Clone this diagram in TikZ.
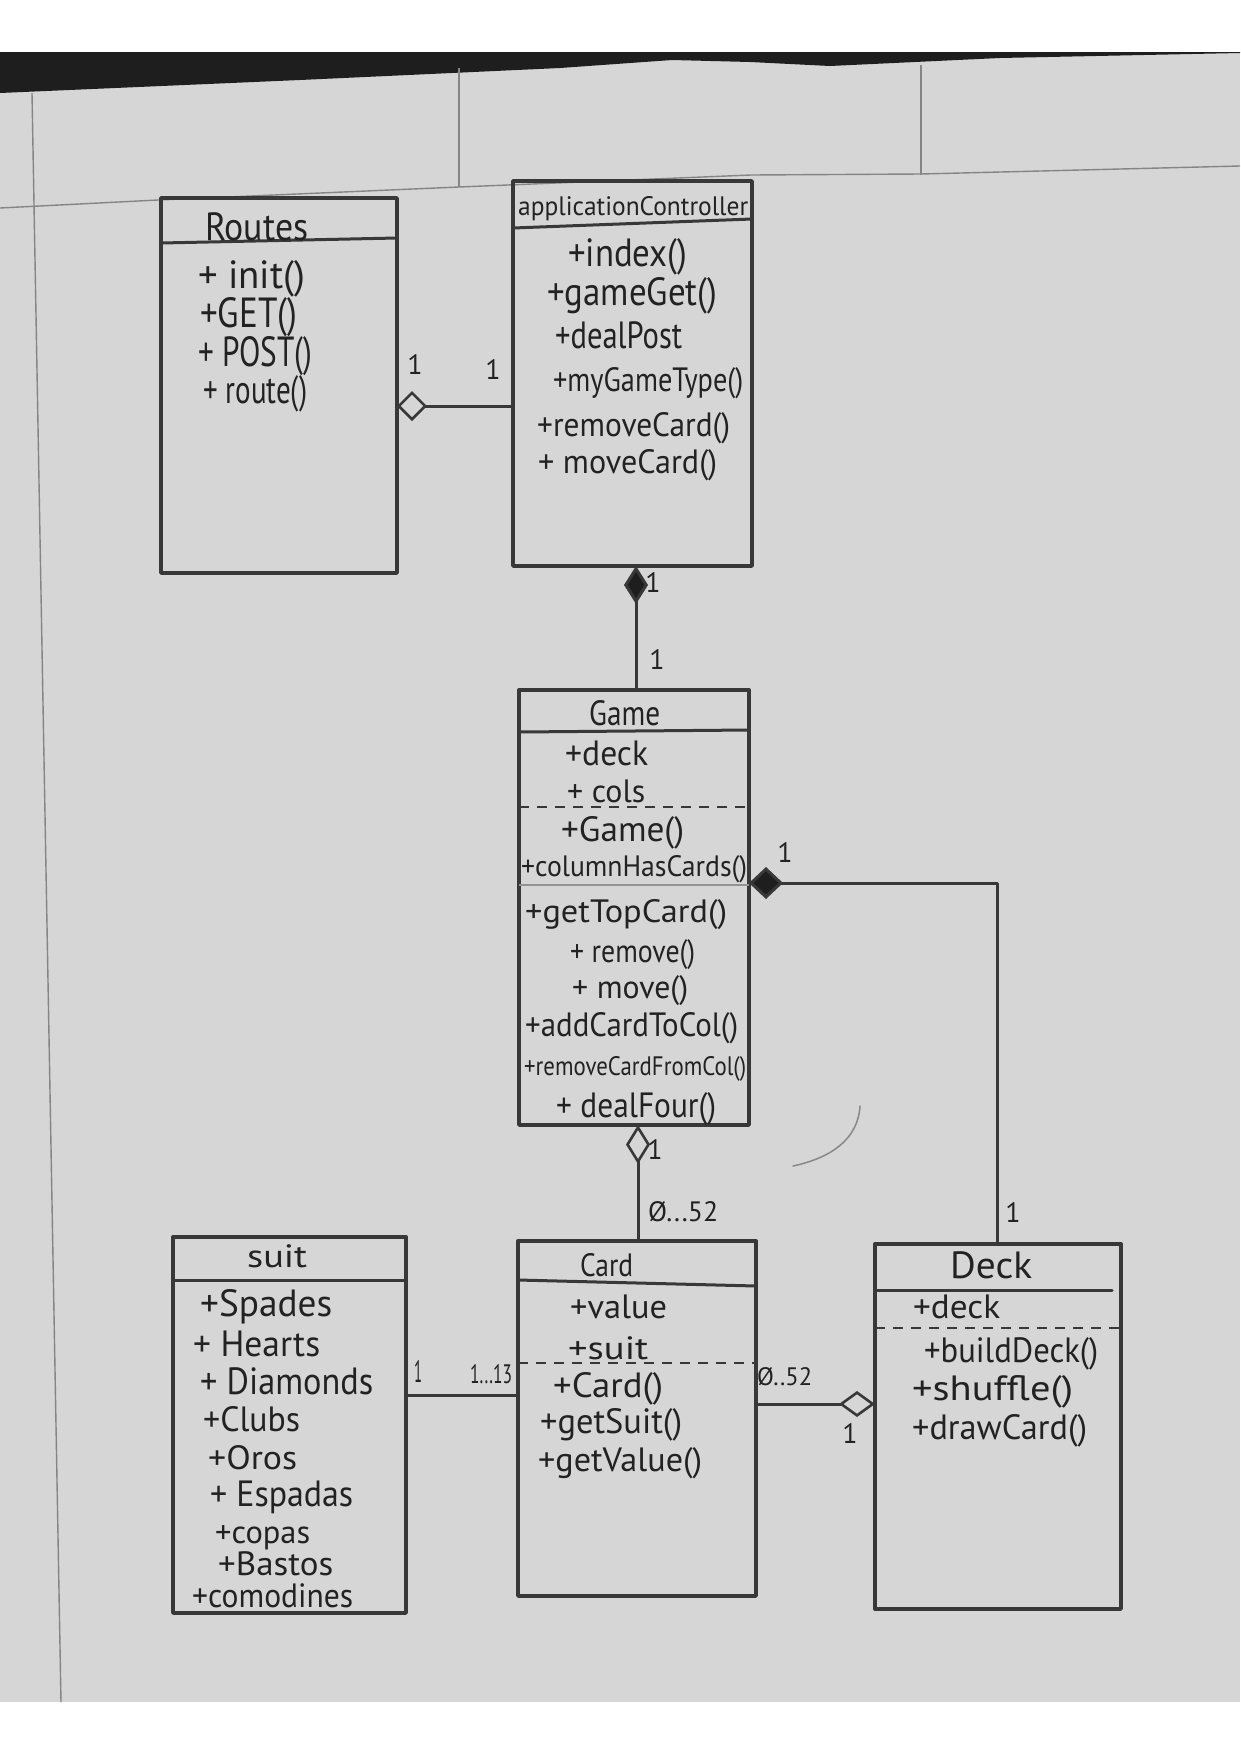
\documentclass[tikz,border=0pt]{standalone}
\usepackage{fontspec}
\setmainfont{PT Sans}
\usetikzlibrary{arrows.meta}
\definecolor{paperc}{HTML}{D6D6D6}
\definecolor{darkc}{HTML}{1E1E1E}
\definecolor{pencilc}{HTML}{383838}
\definecolor{inkc}{HTML}{222222}
\definecolor{rulec}{HTML}{858585}
% text scaled to a given width and a given height above the baseline
\newcommand\hw[3]{\resizebox{#1pt}{#2pt}{\vphantom{(}#3}}
\begin{document}
\begin{tikzpicture}[x=1pt,y=-1pt,
  pencil/.style={draw=pencilc, line width=3.4pt, line cap=round, line join=round},
  umlbox/.style={pencil, rectangle, inner sep=0, outer sep=0, anchor=north west},
  compart/.style={pencil, line width=3pt},
  dashsep/.style={draw=pencilc, line width=2pt, dash pattern=on 10pt off 8pt},
  faintsep/.style={draw=pencilc!55, line width=1.4pt},
  txt/.style={anchor=base west, inner sep=0, text=inkc, font=\fontsize{24}{24}\selectfont},
  mult/.style={inner sep=0, text=inkc, font=\fontsize{28}{28}\selectfont},
  multw/.style={anchor=base west, inner sep=0, text=inkc, font=\fontsize{24}{24}\selectfont},
  rule/.style={draw=rulec, line width=1.4pt},
  link/.style={pencil, line width=3pt},
]
\useasboundingbox (0,0) rectangle (1240,1754);
% photo background
\fill[white] (0,0) rectangle (1240,1754);
\fill[paperc] (0,52) rectangle (1240,1702);
\fill[darkc] (0,52) -- (1240,52) -- (1240,53) -- (1000,58) -- (830,66) -- (750,62)
  -- (672,60) -- (560,68) -- (300,80) -- (0,93) -- cycle;
% ruled paper lines
\draw[rule] (32,93) -- (61,1702);
\draw[rule] (459,68) -- (459,187);
\draw[rule] (921,65) -- (921,175);
\draw[rule] (0,208) -- (158,200) -- (459,187) -- (751,175) -- (921,174) -- (1240,166);

% ---------- class boxes ----------
\node[umlbox, minimum width=236pt, minimum height=375pt] (routes) at (161,198) {};
\node[umlbox, minimum width=239pt, minimum height=385pt] (app) at (513,181) {};
\node[umlbox, minimum width=230pt, minimum height=435pt] (game) at (519,690) {};
\node[umlbox, minimum width=238pt, minimum height=355pt] (card) at (518,1241) {};
\node[umlbox, minimum width=233pt, minimum height=376pt] (suit) at (173,1237) {};
\node[umlbox, minimum width=246pt, minimum height=365pt] (deck) at (875,1244) {};

% compartments
\draw[compart] (routes.west |- 0,243) -- (routes.east |- 0,238);
\draw[compart] (app.west |- 0,228) -- (app.east |- 0,219);
\draw[compart] (game.west |- 0,732) -- (game.east |- 0,730);
\draw[dashsep] (game.west |- 0,807) -- (game.east |- 0,807);
\draw[faintsep] (game.west |- 0,885) -- (game.east |- 0,885);
\draw[compart] (card.west |- 0,1280) -- (card.east |- 0,1286);
\draw[dashsep] (card.west |- 0,1363) -- (card.east |- 0,1363);
\draw[compart] (suit.west |- 0,1280) -- (suit.east |- 0,1280);
\draw[compart] (deck.west |- 0,1290) -- (1112,1290);
\draw[dashsep] (deck.west |- 0,1328) -- (deck.east |- 0,1328);

% ---------- texts (x = left end, y = baseline) ----------
% Routes
\node[txt] (rt) at (205,240) {\hw{103}{28}{Routes}};
\node[txt] (r1) at (198,288) {\hw{107}{28}{+ init()}};
\node[txt] (r2) at (200,327) {\hw{97}{30}{+GET()}};
\node[txt] (r3) at (198,366) {\hw{114}{30}{+ POST()}};
\node[txt] (r4) at (203,403) {\hw{104}{28}{+ route()}};
% applicationController
\node[txt] (at) at (518,215) {\hw{230}{19}{applicationController}};
\node[txt] (a1) at (568,266) {\hw{119}{28}{+index()}};
\node[txt] (a2) at (547,305) {\hw{170}{28}{+gameGet()}};
\node[txt] (a3) at (555,348) {\hw{127}{27}{+dealPost}};
\node[txt] (a4) at (553,391) {\hw{190}{24}{+myGameType()}};
\node[txt] (a5) at (537,436) {\hw{193}{24}{+removeCard()}};
\node[txt] (a6) at (538,473) {\hw{179}{24}{+ moveCard()}};
% Game
\node[txt] (gt) at (589,725) {\hw{71}{25}{Game}};
\node[txt] (g1) at (565,765) {\hw{83}{25}{+deck}};
\node[txt] (g2) at (567,802) {\hw{78}{23}{+ cols}};
\node[txt] (g3) at (561,841) {\hw{123}{25}{+Game()}};
\node[txt] (g4) at (521,876) {\hw{226}{21}{+columnHasCards()}};
\node[txt] (g5) at (525,922) {\hw{202}{23}{+getTopCard()}};
\node[txt] (g6) at (570,962) {\hw{125}{23}{+ remove()}};
\node[txt] (g7) at (572,998) {\hw{116}{23}{+ move()}};
\node[txt] (g8) at (525,1036) {\hw{213}{24}{+addCardToCol()}};
\node[txt] (g9) at (524,1075) {\hw{222}{19}{+removeCardFromCol()}};
\node[txt] (g10) at (556,1117) {\hw{160}{25}{+ dealFour()}};
% Card
\node[txt] (ct) at (580,1276) {\hw{53}{23}{Card}};
\node[txt] (c1) at (570,1318) {\hw{97}{24}{+value}};
\node[txt] (c2) at (568,1359) {\hw{80}{23}{+suit}};
\node[txt] (c3) at (553,1397) {\hw{110}{25}{+Card()}};
\node[txt] (c4) at (540,1433) {\hw{142}{25}{+getSuit()}};
\node[txt] (c5) at (538,1471) {\hw{164}{24}{+getValue()}};
% suit
\node[txt] (st) at (247,1267) {\hw{60}{23}{suit}};
\node[txt] (s1) at (200,1316) {\hw{132}{27}{+Spades}};
\node[txt] (s2) at (193,1356) {\hw{127}{26}{+ Hearts}};
\node[txt] (s3) at (200,1394) {\hw{173}{27}{+ Diamonds}};
\node[txt] (s4) at (203,1431) {\hw{97}{25}{+Clubs}};
\node[txt] (s5) at (208,1469) {\hw{89}{24}{+Oros}};
\node[txt] (s6) at (210,1506) {\hw{143}{26}{+ Espadas}};
\node[txt] (s7) at (215,1543) {\hw{95}{23}{+copas}};
\node[txt] (s8) at (218,1575) {\hw{115}{24}{+Bastos}};
\node[txt] (s9) at (192,1607) {\hw{161}{24}{+comodines}};
% Deck
\node[txt] (dt) at (950,1278) {\hw{82}{27}{Deck}};
\node[txt] (d1) at (913,1318) {\hw{87}{24}{+deck}};
\node[txt] (d2) at (924,1362) {\hw{174}{25}{+buildDeck()}};
\node[txt] (d3) at (912,1400) {\hw{161}{25}{+shuffle()}};
\node[txt] (d4) at (912,1439) {\hw{175}{25}{+drawCard()}};

% ---------- connectors ----------
% Routes <>-- applicationController
\draw[link, -{Diamond[open, length=30pt, width=30pt, line width=2.6pt]}]
  (app.west |- 0,406) -- (routes.east |- 0,406);
% applicationController <#>-- Game
\draw[link, -{Diamond[length=38pt, width=24pt, fill=darkc]}]
  (game.north -| 636,0) -- (app.south -| 636,0);
% Game <#>-- Deck
\draw[link, -{Diamond[length=34pt, width=32pt, fill=darkc]}]
  (deck.north -| 997,0) |- (game.east |- 0,883);
% Game <>-- Card
\draw[link, -{Diamond[open, length=39pt, width=24pt, line width=2.6pt]}]
  (card.north -| 638,0) -- (game.south -| 638,0);
% suit --- Card
\draw[link] (suit.east |- 0,1395) -- (card.west |- 0,1395);
% Card --<> Deck
\draw[link, -{Diamond[open, length=36pt, width=26pt, line width=2.6pt]}]
  (card.east |- 0,1404) -- (deck.west |- 0,1404);

% multiplicities
\node[mult] (m1) at (415,365) {1};
\node[mult] (m2) at (493,370) {1};
\node[mult] (m3) at (653,583) {1};
\node[mult] (m4) at (657,660) {1};
\node[mult] (m5) at (785,853) {1};
\node[mult] (m6) at (1013,1213) {1};
\node[mult] (m7) at (655,1150) {1};
\node[multw] (m8) at (648,1221) {\hw{70}{20}{Ø...52}};
\node[multw] (m9) at (414,1382) {\hw{8}{22}{1}};
\node[multw] (m10) at (470,1383) {\hw{42}{19}{1...13}};
\node[multw] (m11) at (757,1385) {\hw{55}{18}{Ø..52}};
\node[mult] (m12) at (850,1434) {1};

% stray pencil stroke
\draw[draw=pencilc!60, line width=1.5pt, line cap=round]
  (860,1106) .. controls (858,1140) and (830,1158) .. (793,1166);
\end{tikzpicture}
\end{document}
